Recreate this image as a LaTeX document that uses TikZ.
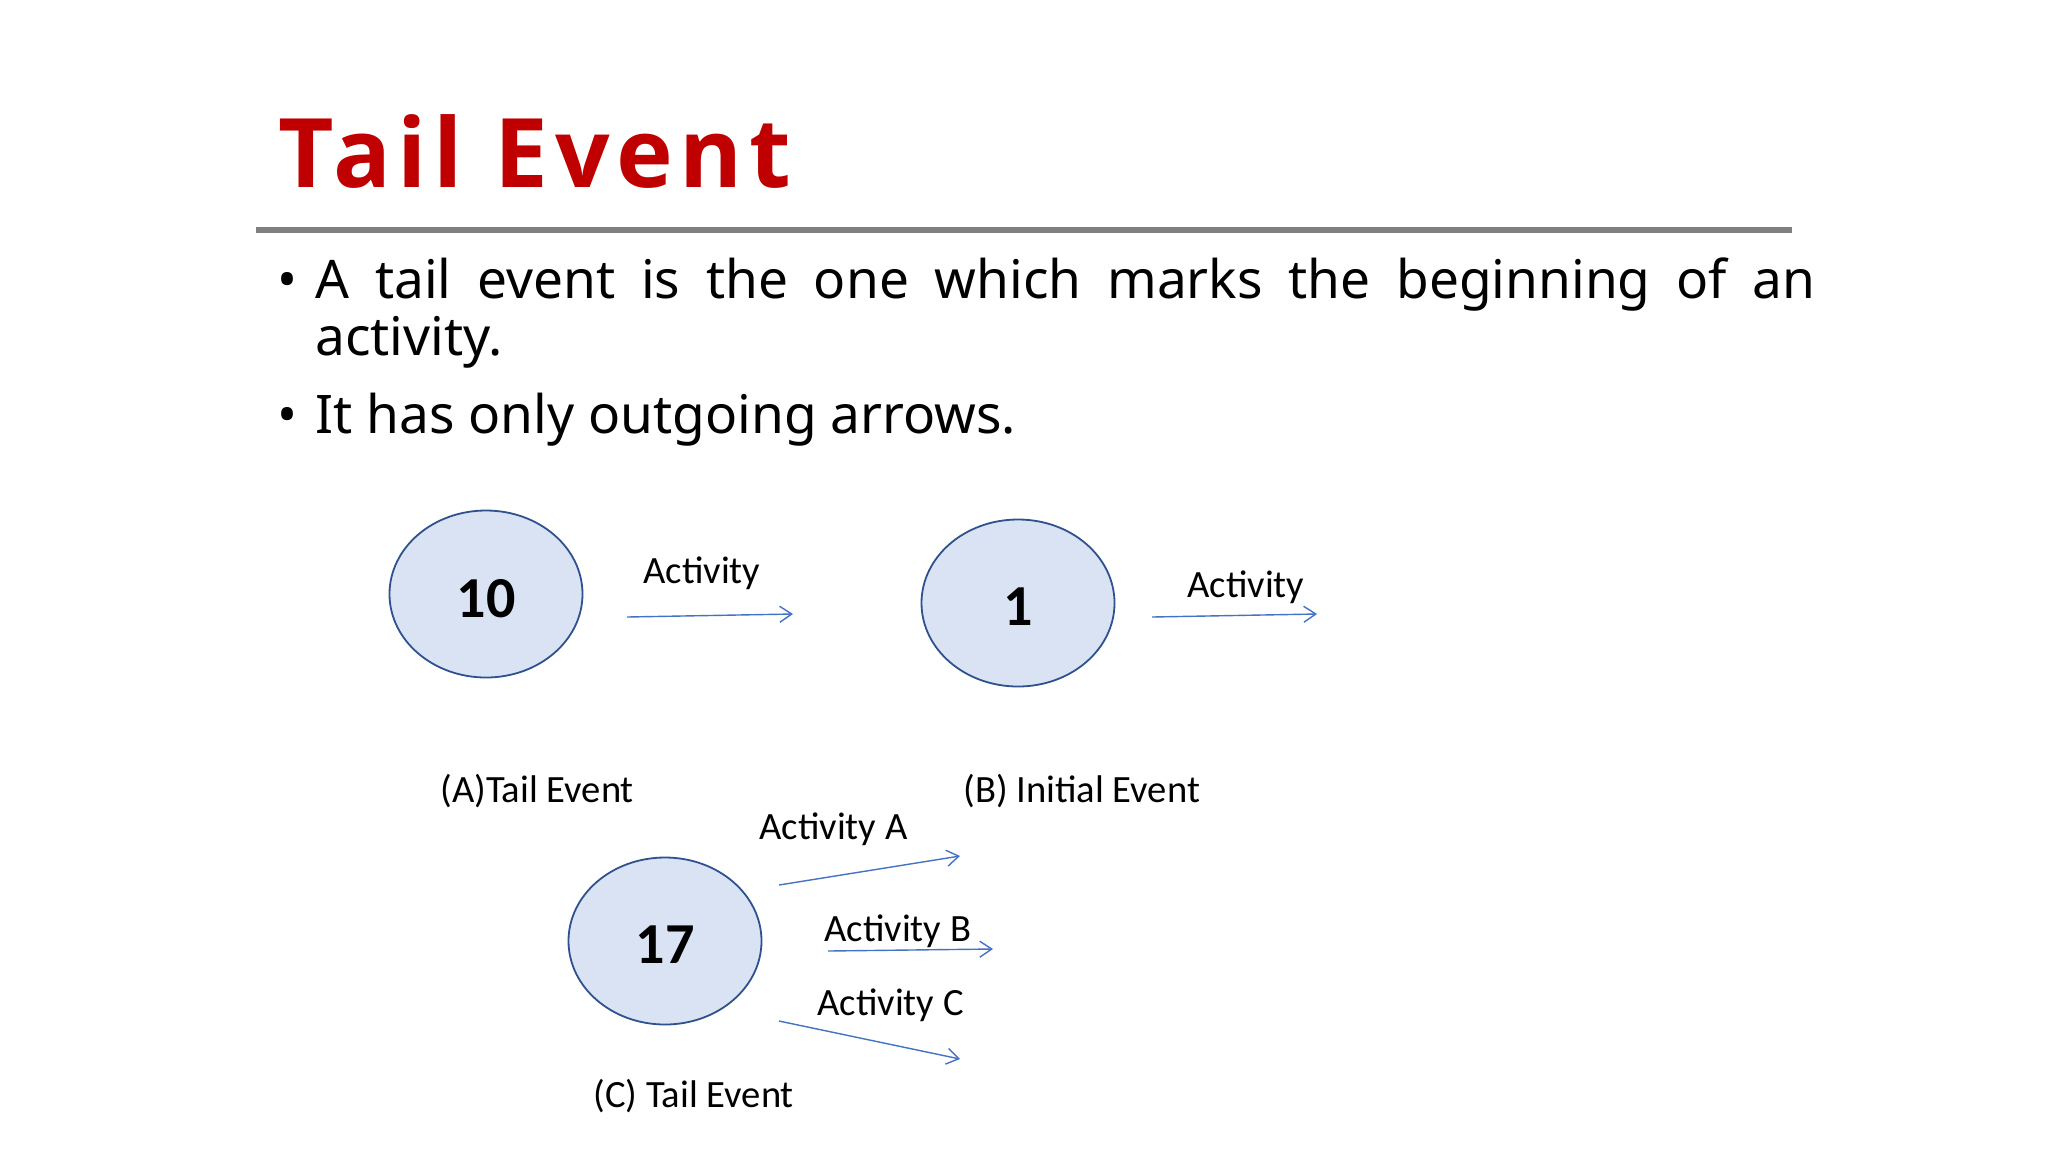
\documentclass[tikz,border=0pt]{standalone}
\usepackage{fontspec}
\setmainfont{Carlito}
\newfontfamily\titlefont[LetterSpace=7]{Open Sans}
\newfontfamily\bodyfont{Noto Sans}
\usepackage{xcolor}
\usetikzlibrary{positioning, shapes.geometric, arrows.meta}

\definecolor{titlered}{HTML}{C00000}
\definecolor{rulegray}{HTML}{808080}
\definecolor{eventfill}{HTML}{DAE3F3}
\definecolor{eventline}{HTML}{2F528F}
\definecolor{actblue}{HTML}{4472C4}

\newcommand{\evnum}[1]{\raisebox{-2pt}[\height][0pt]{#1}}

\tikzset{
  event/.style={ellipse, draw=eventline, fill=eventfill, line width=0.9pt,
    minimum width=96.5pt, minimum height=83.5pt, inner sep=0pt,
    font=\bfseries\fontsize{29pt}{32pt}\selectfont},
  activity/.style={draw=actblue, line width=0.7pt, -{Straight Barb[length=6pt,width=8pt]}},
  actlabel/.style={anchor=base west, inner sep=0pt, font=\fontsize{19.3pt}{22pt}\selectfont},
  bodytext/.style={anchor=base west, inner sep=0pt, font=\bodyfont\fontsize{26.6pt}{28.5pt}\selectfont},
}

\begin{document}
\begin{tikzpicture}[x=0.5pt, y=-0.5pt]
    \useasboundingbox[fill=white] (0,0) rectangle (2048,1152);

    % heading and rule
    \node[anchor=base west, inner sep=0pt, text=titlered,
      font=\titlefont\bfseries\fontsize{48pt}{50pt}\selectfont] (title) at (278,187) {Tail Event};
    \coordinate (ruleL) at (256,230);
    \coordinate (ruleR) at (1792,230);
    \draw[rulegray, line width=3pt] (ruleL) -- (ruleR);

    % bullet points
    \node[bodytext, anchor=base] (dot1) at (287,298) {•};
    \node[bodytext] (line1) at (315,298) {\makebox[750pt][s]{A tail event is the one which marks the beginning of an}};
    \node[bodytext] (line2) at (315,355) {activity.};
    \node[bodytext, anchor=base] (dot2) at (287,433) {•};
    \node[bodytext] (line3) at (315,433) {It has only outgoing arrows.};

    % events
    \node[event] (ev10) at (486,594) {\evnum{10}};
    \node[event] (ev1) at (1018,603) {\evnum{1}};
    \node[event] (ev17) at (665,941) {\evnum{17}};

    % (A) tail event
    \coordinate (aS) at (627,617);
    \coordinate (aE) at (793,614);
    \draw[activity] (aS) -- (aE);
    \node[actlabel] (actA) at (643,583) {Activity};
    \node[actlabel] (capA) at (440,802) {(A)Tail Event};

    % (B) initial event
    \coordinate (bS) at (1152,617);
    \coordinate (bE) at (1317,614);
    \draw[activity] (bS) -- (bE);
    \node[actlabel] (actB) at (1187,597) {Activity};
    \node[actlabel] (capB) at (963,802) {(B) Initial Event};

    % (C) tail event with three activities
    \coordinate (c1S) at (779,885);
    \coordinate (c1E) at (960,856);
    \coordinate (c2S) at (828,951);
    \coordinate (c2E) at (993,949);
    \coordinate (c3S) at (779,1021);
    \coordinate (c3E) at (960,1059);
    \draw[activity] (c1S) -- (c1E);
    \draw[activity] (c2S) -- (c2E);
    \draw[activity] (c3S) -- (c3E);
    \node[actlabel] (actC1) at (759,839) {Activity A};
    \node[actlabel] (actC2) at (824,941) {Activity B};
    \node[actlabel] (actC3) at (817,1015) {Activity C};
    \node[actlabel] (capC) at (593,1107) {(C) Tail Event};
\end{tikzpicture}
\end{document}
